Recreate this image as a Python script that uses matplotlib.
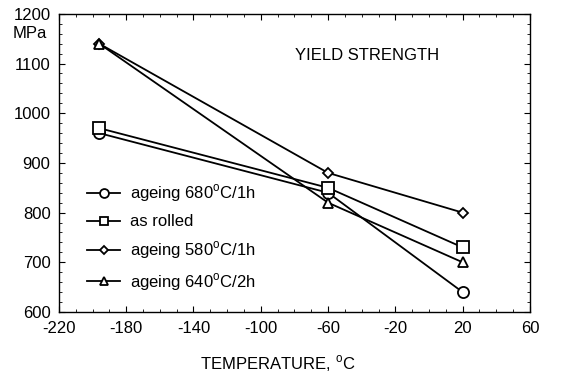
import matplotlib
matplotlib.use("Agg")
import matplotlib.pyplot as plt
from matplotlib.ticker import MultipleLocator

plt.rcParams['font.family'] = ['Liberation Sans', 'DejaVu Sans']
plt.rcParams['mathtext.fontset'] = 'custom'
plt.rcParams['mathtext.rm'] = 'Liberation Sans'
plt.rcParams['axes.unicode_minus'] = False

temps = [-196, -60, 20]
ageing680 = [960, 840, 640]
as_rolled = [970, 850, 730]
ageing580 = [1140, 880, 800]
ageing640 = [1140, 820, 700]
xticks = [-220, -180, -140, -100, -60, -20, 20, 60]

deg = r'$^{\mathrm{o}}$'
series = [
    (ageing680, 'o', 8, 'ageing 680' + deg + 'C/1h'),
    (as_rolled, 's', 8, 'as rolled'),
    (ageing580, 'D', 5, 'ageing 580' + deg + 'C/1h'),
    (ageing640, '^', 7.5, 'ageing 640' + deg + 'C/2h'),
]

fig = plt.figure(figsize=(5.83, 3.75), dpi=100)
ax = fig.add_axes([0.101, 0.168, 0.808, 0.795])

for vals, mk, ms, lab in series:
    ax.plot(temps, vals, color='black', lw=1.3, marker=mk, ms=ms,
            mfc='white', mec='black', mew=1.3, label=lab)

ax.set_xlim(-220, 60)
ax.set_ylim(600, 1200)
ax.set_xticks(xticks)
ax.xaxis.set_minor_locator(MultipleLocator(10))
ax.yaxis.set_major_locator(MultipleLocator(100))
ax.yaxis.set_minor_locator(MultipleLocator(20))
ax.tick_params(which='both', direction='in', top=True, right=True, labelsize=12)
ax.tick_params(which='major', length=4)
ax.tick_params(which='minor', length=2)
ax.tick_params(axis='x', which='major', pad=6.5)
ax.tick_params(axis='y', which='major', pad=6)
for s in ax.spines.values():
    s.set_linewidth(1.0)

ax.set_xlabel('TEMPERATURE, ' + deg + 'C', fontsize=12)
ax.xaxis.set_label_coords(0.465, -0.14)
fig.text(0.022, 0.912, 'MPa', fontsize=12, ha='left', va='center')
ax.text(-37, 1117, 'YIELD STRENGTH', fontsize=12, ha='center', va='center')

leg = ax.legend(loc='lower left', bbox_to_anchor=(0.035, 0.025), frameon=False,
                fontsize=12, handlelength=2.0, labelspacing=0.6,
                handletextpad=0.6, borderaxespad=0.3, markerscale=0.8)

fig.savefig('out.png', dpi=100)
